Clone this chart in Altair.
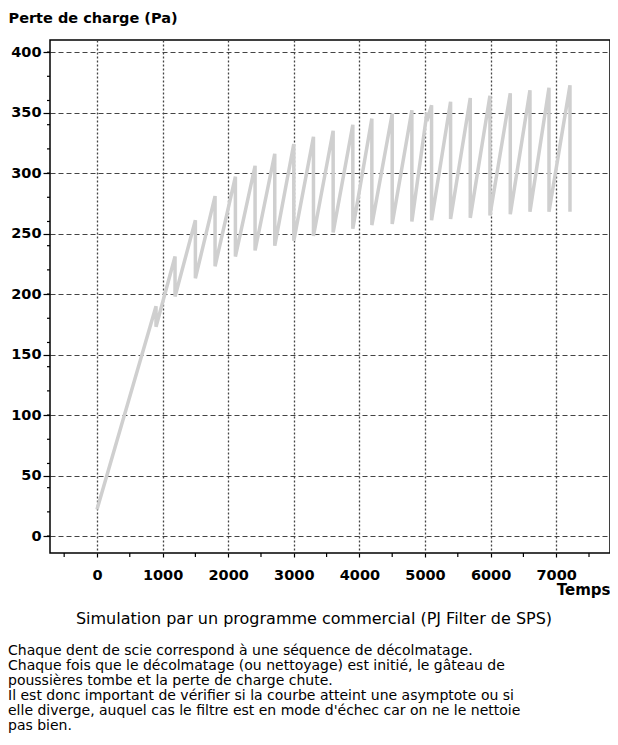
import altair as alt
import pandas as pd

# ---- data ----
start_time = 0
start_value = 22
# each cleaning event: time, pressure just before cleaning (peak), pressure just after (trough)
event_times = [900, 1190, 1500, 1800, 2110, 2410, 2710, 3000, 3300, 3600, 3900,
               4190, 4500, 4800, 5030, 5100, 5390, 5690, 5990, 6300, 6600, 6890, 7210]
event_peaks = [190, 231, 261, 281, 297, 306, 316, 324, 330, 335, 340,
               345, 349, 352, 350, 356, 359, 362, 364, 366, 368.5, 370.5, 372.5]
event_troughs = [173, 198, 213, 223, 231, 236, 240, 244, 248, 251, 254,
                 257, 258, 260, 343, 261, 262, 263, 265, 266, 268, 268, 268]

x_ticks = [0, 1000, 2000, 3000, 4000, 5000, 6000, 7000]
x_minor = [-500, 500, 1500, 2500, 3500, 4500, 5500, 6500, 7500]
y_ticks = [0, 50, 100, 150, 200, 250, 300, 350, 400]
y_minor = list(range(0, 401, 20))

y_title = "Perte de charge (Pa)"
x_title = "Temps"
caption = "Simulation par un programme commercial (PJ Filter de SPS)"
paragraph = [
    "Chaque dent de scie correspond à une séquence de décolmatage.",
    "Chaque fois que le décolmatage (ou nettoyage) est initié, le gâteau de",
    "poussières tombe et la perte de charge chute.",
    "Il est donc important de vérifier si la courbe atteint une asymptote ou si",
    "elle diverge, auquel cas le filtre est en mode d'échec car on ne le nettoie",
    "pas bien.",
]

# ---- build the line table ----
rows = [{"t": start_time, "p": start_value, "o": 0}]
k = 1
for t, hi, lo in zip(event_times, event_peaks, event_troughs):
    rows.append({"t": t, "p": hi, "o": k}); k += 1
    rows.append({"t": t, "p": lo, "o": k}); k += 1
df = pd.DataFrame(rows)

W, H = 560, 513
FONT = "DejaVu Sans"

xscale = alt.Scale(domain=[-716, 7820], nice=False, zero=False)
yscale = alt.Scale(domain=[-14, 410], nice=False, zero=False)

line = alt.Chart(df).mark_line(
    color="#cfcfcf", strokeWidth=3.5, strokeJoin="bevel"
).encode(
    x=alt.X("t:Q", scale=xscale, axis=alt.Axis(
        values=x_ticks, title=x_title, grid=True, gridDash=[2, 2], gridColor="#444444",
        gridWidth=1.3, domain=False, tickSize=4, tickColor="black", tickWidth=1.2,
        labelFont=FONT, labelFontSize=14.5, labelFontWeight="bold", labelColor="black",
        labelPadding=11, format="d",
        titleFont=FONT, titleFontSize=15, titleFontWeight="bold", titleColor="black",
        titleX=W, titleY=41, titleAlign="right", titleBaseline="alphabetic", titleAnchor="end",
    )),
    y=alt.Y("p:Q", scale=yscale, axis=alt.Axis(
        values=y_ticks, title=y_title, grid=True, gridDash=[5, 3], gridColor="#444444",
        gridWidth=1.2, domain=False, tickSize=7, tickColor="black", tickWidth=1.2,
        labelFont=FONT, labelFontSize=14.5, labelFontWeight="bold", labelColor="black",
        labelPadding=2,
        titleFont=FONT, titleFontSize=14.5, titleFontWeight="bold", titleColor="black",
        titleAngle=0, titleAlign="left", titleBaseline="middle", titleX=-42, titleY=-22,
    )),
    order="o:Q",
)

xm = alt.Chart(pd.DataFrame({"t": x_minor})).mark_rule(color="black", strokeWidth=1.2).encode(
    x=alt.X("t:Q", scale=xscale), y=alt.value(H), y2=alt.value(H + 4)
)
ym = alt.Chart(pd.DataFrame({"p": y_minor})).mark_rule(color="black", strokeWidth=1.2).encode(
    y=alt.Y("p:Q", scale=yscale), x=alt.value(0), x2=alt.value(-3)
)

cap = alt.Chart(pd.DataFrame({"s": [caption]})).mark_text(
    font=FONT, fontSize=16, color="black", align="center", baseline="middle"
).encode(text="s:N", x=alt.value(264), y=alt.value(579))

para = alt.Chart(pd.DataFrame({"s": ["\n".join(paragraph)]})).mark_text(
    font=FONT, fontSize=14, color="black", align="left", baseline="top",
    lineBreak="\n", lineHeight=15
).encode(text="s:N", x=alt.value(-42), y=alt.value(604))

chart = alt.layer(line, xm, ym, cap, para).properties(
    width=W, height=H,
    autosize=alt.AutoSizeParams(type="none"),
    padding={"left": 42, "top": 32, "right": 0, "bottom": 180},
).configure_view(stroke="black", strokeWidth=1.5)

chart.save("out.html", embed_options={"renderer": "svg", "actions": False})
